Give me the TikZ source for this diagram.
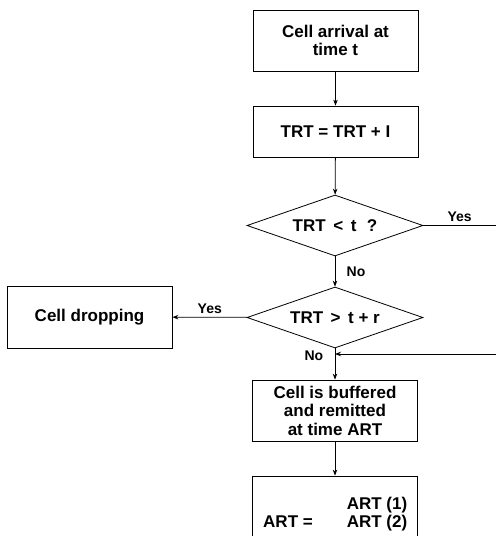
\documentclass[tikz,border=0pt]{standalone}
\usepackage{fontspec}
\setmainfont{Liberation Sans}
\usetikzlibrary{arrows.meta,shapes.geometric}

\begin{document}
\begin{tikzpicture}[x=1pt,y=-1pt,
  box/.style={draw,line width=0.8pt,minimum width=165pt,inner sep=0pt,align=center,font=\bfseries\fontsize{17}{18.5}\selectfont},
  decision/.style={draw,diamond,line width=0.8pt,minimum width=176pt,minimum height=61pt,aspect=2.9,inner sep=0pt,font=\bfseries\fontsize{17}{18.5}\selectfont},
  lbl/.style={font=\bfseries\fontsize{14}{16}\selectfont},
  line/.style={line width=0.8pt},
  flow/.style={line width=0.8pt,-{Stealth[length=6pt,width=4.5pt]}}]
  \clip (0,0) rectangle (496,536);
  \node[box,minimum height=61pt] (arrival) at (335.5,40.5) {Cell arrival at\\time t};
  \node[box,minimum height=51pt] (update) at (335.5,131.5) {TRT = TRT + I};
  \node[decision] (early) at (335,225.5) {TRT\, <\, t\,\, ?};
  \node[decision] (late) at (335,317.5) {TRT\, >\, t + r};
  \node[box,minimum height=62pt] (drop) at (89.5,317) {Cell dropping};
  \node[box,minimum height=61pt] (buffer) at (335,410.5) {Cell is buffered\\and remitted\\at time ART};
  \node[box,minimum height=90pt] (art) at (335,521) {};
  \node[font=\bfseries\fontsize{17}{18.5}\selectfont] (artlhs) at (288,522) {ART =};
  \node[font=\bfseries\fontsize{17}{18.5}\selectfont,align=left] (artrhs) at (377,514) {ART (1)\\ART (2)};
  \coordinate (yesout) at (496,225.5);
  \coordinate (loopin) at (496,354);
  \coordinate (join) at (335,354);
  % connectors
  \draw[flow] (arrival) -- (update);
  \draw[flow] (update) -- (early);
  \draw[line] (early.east) -- node[lbl,above] {Yes} (yesout);
  \draw[flow] (early) -- node[lbl,right=8pt] {No} (late);
  \draw[flow] (late) -- node[lbl,above] {Yes} (drop);
  \draw[flow] (late) -- node[lbl,left=8pt,pos=0.22] {No} (buffer);
  \draw[flow] (loopin) -- (join);
  \draw[flow] (buffer) -- (art);
\end{tikzpicture}
\end{document}
